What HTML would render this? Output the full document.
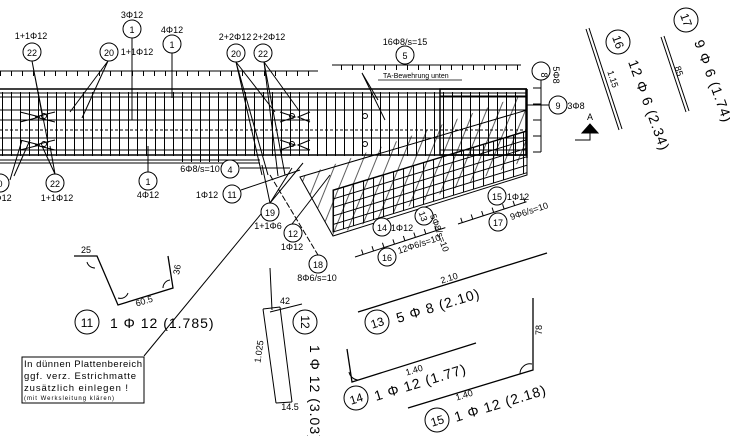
<!DOCTYPE html>
<html><head><meta charset="utf-8"><style>
html,body{margin:0;padding:0;background:#fff}
svg{display:block}
text{font-family:"Liberation Sans",sans-serif;fill:#000}
</style></head><body>
<svg width="730" height="436" viewBox="0 0 730 436" xmlns="http://www.w3.org/2000/svg">
<defs>
<pattern id="st" x="2" y="0" width="9" height="436" patternUnits="userSpaceOnUse"><line x1="0.5" y1="0" x2="0.5" y2="436" stroke="#000" stroke-width="1"/></pattern>
<pattern id="tk" x="0" y="0" width="11" height="10" patternUnits="userSpaceOnUse"><line x1="0.5" y1="0" x2="0.5" y2="10" stroke="#000" stroke-width="1"/></pattern>
<pattern id="grid" x="333" y="190" width="10" height="8.5" patternUnits="userSpaceOnUse"><path d="M0.5 0V9M0 0.5H10" stroke="#000" stroke-width="1" fill="none"/></pattern>
<pattern id="diag" width="12" height="200" patternUnits="userSpaceOnUse" patternTransform="rotate(22)"><line x1="0.5" y1="0" x2="0.5" y2="200" stroke="#000" stroke-width="0.9"/></pattern>
</defs>
<g fill="none" stroke="#000" stroke-width="1">
<!-- top dimension lines -->
<line x1="0" y1="71" x2="318" y2="71"/>
<rect x="0" y="71" width="318" height="5" fill="url(#tk)" stroke="none"/>
<line x1="332" y1="65" x2="521" y2="65"/>
<rect x="332" y="65" width="190" height="5" fill="url(#tk)" stroke="none"/>
<!-- beam -->
<rect x="0" y="92" width="524" height="64" fill="url(#st)" stroke="none"/>
<line x1="0" y1="89" x2="527" y2="89" stroke-width="1.5"/>
<line x1="527" y1="89" x2="527" y2="158" stroke-width="1.5"/>
<line x1="0" y1="93" x2="527" y2="93"/>
<line x1="0" y1="97" x2="527" y2="97"/>
<line x1="0" y1="110" x2="310" y2="110"/>
<line x1="0" y1="120" x2="310" y2="120"/>
<line x1="0" y1="130" x2="527" y2="130" stroke-dasharray="3,2"/>
<line x1="0" y1="138" x2="310" y2="138"/>
<line x1="0" y1="150" x2="310" y2="150"/>
<line x1="232" y1="110" x2="527" y2="110"/>
<line x1="232" y1="138" x2="527" y2="138"/>
<line x1="0" y1="155" x2="527" y2="155" stroke-width="1.5"/>
<line x1="0" y1="160" x2="260" y2="160"/>
<line x1="0" y1="163" x2="260" y2="163"/>
<rect x="176" y="100" width="48" height="62" fill="url(#st)" stroke="none"/>
<rect x="440" y="89" width="86" height="66" stroke-width="1.5"/>
<line x1="440" y1="96" x2="526" y2="96"/><line x1="440" y1="150" x2="526" y2="150"/>
<!-- lap splices -->
<path d="M20 112 L40 117 L20 122 M20 140 L40 145 L20 150 M55 112 L35 117 L55 122 M55 140 L35 145 L55 150"/>
<circle cx="44" cy="116" r="2.5"/><circle cx="44" cy="144" r="2.5"/>
<path d="M280 112 L295 117 L280 122 M280 140 L295 145 L280 150 M310 112 L298 117 L310 122 M310 140 L298 145 L310 150"/>
<circle cx="292" cy="116" r="2.5"/><circle cx="292" cy="144" r="2.5"/>
<circle cx="365" cy="116" r="2.5"/><circle cx="365" cy="144" r="2.5"/>
<!-- right dim -->
<line x1="541" y1="80" x2="541" y2="152"/>
<path d="M533 88H541M533 104H541M533 120H541M533 136H541M533 152H541"/>
<line x1="527" y1="105" x2="549" y2="105"/>
<!-- skewed mesh -->
<polygon points="300,177 527,110 527,175 333,236" fill="none"/>
<g transform="translate(333,0) skewY(-17) translate(-333,0)">
<rect x="333" y="190" width="194" height="42" fill="url(#grid)"/>
</g>
<polygon points="300,177 527,93 527,160 333,236" fill="url(#diag)" stroke="none" opacity="0.7"/>
<!-- leaders -->
<path d="M32 61 L42 114 M32 61 L48 143 M108 61 L70 112 M108 61 L82 118"/>
<path d="M132 37 V120 M172 53 V98 M148 172 V146"/>
<path d="M236 62 L275 112 M236 62 L268 175 M236 62 L262 175 M264 62 L300 112 M264 62 L285 175 M264 62 L278 176"/>
<path d="M10 180 L22 140 M14 176 L30 140 M55 174 L42 146 M55 174 L50 146"/>
<path d="M240 168 H290"/>
<path d="M241 190 L300 170"/>
<path d="M270 203 L262 165 M270 203 L292 168"/>
<path d="M292 224 L330 175"/>
<path d="M270 175 L318 255" stroke-dasharray="6,2"/>
<path d="M144 356 L303 163"/>
<path d="M362 73 L378 100 M362 73 L385 120"/>
<path d="M378 80 H462" stroke-width="0.8"/>
<!-- dim lines 16, 17 -->
<g transform="rotate(-18 355 257)"><line x1="355" y1="257" x2="450" y2="257"/><rect x="355" y="252" width="95" height="5" fill="url(#tk)" stroke="none"/></g>
<g transform="rotate(-18 458 224)"><line x1="458" y1="224" x2="530" y2="224"/><rect x="458" y="219" width="72" height="5" fill="url(#tk)" stroke="none"/></g>
<!-- section A -->
<polygon points="590,124 582,133 598,133" fill="#000"/>
<path d="M575 140 H590 V133"/>
<!-- top right bars -->
<path d="M586 29 L619 130 M589 28 L622 129"/>
<path d="M661 37 L686 112 M664 36 L689 111"/>
<!-- bar 11 -->
<path d="M74 256 H97 L118 305 L173 288 L168 256" stroke-width="1.3"/>
<path d="M87 262 a8 8 0 0 0 8 6 M118 298 a8 8 0 0 0 10 -5 M163 288 a8 8 0 0 1 7 -8"/>
<!-- bar 12 -->
<path d="M270 268 L272 310 M263 309 L276 403 M280 307 L292 402 M263 309 L280 307 M276 403 L292 402 M270 312 L302 304" />
<!-- bar 13 -->
<line x1="358" y1="312" x2="547" y2="253" stroke-width="1.3"/>
<!-- bar 14 -->
<path d="M347 349 L352 382 L476 343" stroke-width="1.3"/>
<path d="M349 372 a10 10 0 0 0 10 8"/>
<!-- bar 15 -->
<path d="M408 408 L533 370 V298" stroke-width="1.3"/>
<path d="M520 374 a10 10 0 0 1 12 -10"/>
<!-- note box -->
<rect x="22" y="357" width="122" height="46"/>
<!-- circles -->
<g stroke-width="1" fill="#fff">
<circle cx="132" cy="29" r="9"/><circle cx="172" cy="44" r="9"/>
<circle cx="32" cy="52" r="9"/><circle cx="109" cy="52" r="9"/>
<circle cx="236" cy="53" r="9"/><circle cx="263" cy="53" r="9"/>
<circle cx="405" cy="55" r="9"/><circle cx="541" cy="71" r="9"/><circle cx="558" cy="105" r="9"/>
<circle cx="0" cy="183" r="9"/><circle cx="55" cy="183" r="9"/><circle cx="148" cy="181" r="9"/>
<circle cx="230" cy="169" r="9"/><circle cx="232" cy="194" r="9"/>
<circle cx="270" cy="212" r="9"/><circle cx="293" cy="233" r="9"/><circle cx="318" cy="264" r="9"/>
<circle cx="382" cy="227" r="9"/><circle cx="424" cy="216" r="9"/><circle cx="497" cy="196" r="9"/>
<circle cx="498" cy="222" r="9"/><circle cx="387" cy="257" r="9"/>
<circle cx="618" cy="42" r="12"/><circle cx="686" cy="20" r="12"/>
<circle cx="87" cy="322" r="12"/><circle cx="305" cy="322" r="12"/><circle cx="377" cy="322" r="12"/>
<circle cx="356" cy="398" r="12"/><circle cx="437" cy="420" r="12"/>
</g>
</g>
<g font-size="9" text-anchor="middle">
<text x="132" y="33">1</text><text x="172" y="48">1</text><text x="32" y="56">22</text><text x="109" y="56">20</text>
<text x="236" y="57">20</text><text x="263" y="57">22</text><text x="405" y="59">5</text>
<text x="545" y="71" transform="rotate(90 541 71)">8</text><text x="558" y="109">9</text>
<text x="0" y="187">0</text><text x="55" y="187">22</text><text x="148" y="185">1</text>
<text x="230" y="173">4</text><text x="232" y="198">11</text><text x="270" y="216">19</text>
<text x="293" y="237">12</text><text x="318" y="268">18</text><text x="382" y="231">14</text>
<text x="424" y="220" transform="rotate(70 424 216)">13</text><text x="497" y="200">15</text><text x="498" y="226">17</text><text x="387" y="261">16</text>
<text x="132" y="18">3Φ12</text><text x="172" y="33">4Φ12</text><text x="31" y="39">1+1Φ12</text>
<text x="137" y="55">1+1Φ12</text><text x="235" y="40">2+2Φ12</text><text x="269" y="40">2+2Φ12</text>
<text x="405" y="45">16Φ8/s=15</text><text x="3" y="201">Φ12</text><text x="57" y="201">1+1Φ12</text>
<text x="148" y="198">4Φ12</text><text x="200" y="172">6Φ8/s=10</text><text x="207" y="198">1Φ12</text>
<text x="268" y="229">1+1Φ6</text><text x="292" y="250">1Φ12</text><text x="317" y="281">8Φ6/s=10</text>
<text x="402" y="231">1Φ12</text><text x="518" y="200">1Φ12</text>
<text x="576" y="109">3Φ8</text><text x="590" y="120">A</text>
<text x="556" y="72" transform="rotate(90 553 72)">5Φ8</text>
<text x="438" y="232" transform="rotate(70 436 232)">5Φ8/s=10</text>
<text x="420" y="247" transform="rotate(-18 420 247)">12Φ6/s=10</text>
<text x="530" y="214" transform="rotate(-18 530 214)">9Φ6/s=10</text>
<text x="86" y="253">25</text><text x="145" y="304" transform="rotate(-17 145 304)">60.5</text>
<text x="180" y="270" transform="rotate(-80 180 270)">36</text>
<text x="285" y="304">42</text><text x="290" y="410">14.5</text>
<text x="262" y="352" transform="rotate(-82 262 352)">1.025</text>
<text x="450" y="281" transform="rotate(-17 450 281)">2.10</text>
<text x="415" y="373" transform="rotate(-17 415 373)">1.40</text>
<text x="465" y="398" transform="rotate(-17 465 398)">1.40</text>
<text x="542" y="330" transform="rotate(-90 542 330)">78</text>
<text x="610" y="80" transform="rotate(72 610 80)">1.15</text>
<text x="676" y="72" transform="rotate(72 676 72)">85</text>
</g>
<g font-size="7"><text x="383" y="78">TA-Bewehrung unten</text></g>
<g font-size="12" text-anchor="middle">
<text x="618" y="46" transform="rotate(70 618 42)">16</text><text x="686" y="24" transform="rotate(70 686 20)">17</text>
<text x="87" y="327">11</text><text x="305" y="326" transform="rotate(90 305 322)">12</text>
<text x="377" y="327" transform="rotate(-17 377 322)">13</text><text x="356" y="403" transform="rotate(-17 356 398)">14</text>
<text x="437" y="425" transform="rotate(-17 437 420)">15</text>
</g>
<g font-size="14" letter-spacing="1">
<text x="110" y="328">1 Φ 12 (1.785)</text>
<text x="310" y="345" transform="rotate(90 310 345)">1 Φ 12 (3.03)</text>
<text x="398" y="323" transform="rotate(-17 398 323)">5 Φ 8 (2.10)</text>
<text x="376" y="401" transform="rotate(-17 376 401)">1 Φ 12 (1.77)</text>
<text x="456" y="422" transform="rotate(-17 456 422)">1 Φ 12 (2.18)</text>
<text x="628" y="62" transform="rotate(70 628 62)">12 Φ 6 (2.34)</text>
<text x="694" y="42" transform="rotate(70 694 42)">9 Φ 6 (1.74)</text>
</g>
<g font-size="9.5" font-family="Liberation Mono">
<text x="24" y="367" textLength="118">In dünnen Plattenbereich</text>
<text x="24" y="379" textLength="112">ggf. verz. Estrichmatte</text>
<text x="24" y="391" textLength="104">zusätzlich einlegen !</text>
<text x="24" y="400" font-size="6" textLength="90">(mit Werksleitung klären)</text>
</g>
</svg>
</body></html>
